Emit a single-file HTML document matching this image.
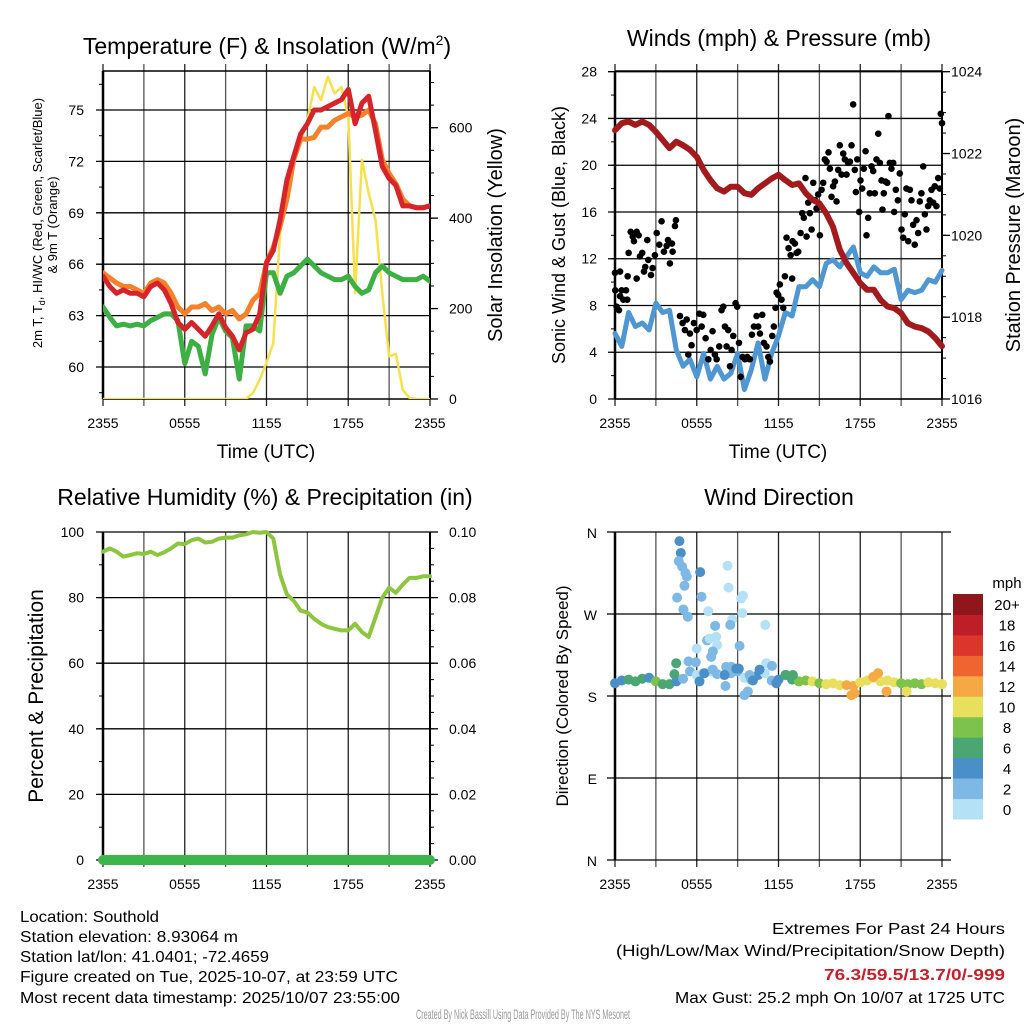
<!DOCTYPE html>
<html><head><meta charset="utf-8"><style>
html,body{margin:0;padding:0;background:#fff}
svg{display:block;font-family:"Liberation Sans",Arial,sans-serif}
</style></head><body>
<svg id="fig" width="1024" height="1024" viewBox="0 0 1024 1024" xmlns="http://www.w3.org/2000/svg">
<rect x="0" y="0" width="1024" height="1024" fill="#fff"/>
<g id="layer"></g>
<text x="267" y="54" font-size="23" text-anchor="middle">Temperature (F) &amp; Insolation (W/m<tspan font-size="14" dy="-9">2</tspan><tspan dy="9">)</tspan></text>
<text x="779" y="46" font-size="23" text-anchor="middle">Winds (mph) &amp; Pressure (mb)</text>
<text x="265" y="505" font-size="23" text-anchor="middle">Relative Humidity (%) &amp; Precipitation (in)</text>
<text x="779" y="505" font-size="23" text-anchor="middle">Wind Direction</text>
<text x="266" y="458" font-size="19" text-anchor="middle">Time (UTC)</text>
<text x="778" y="458" font-size="19" text-anchor="middle">Time (UTC)</text>
<text transform="translate(42,223) rotate(-90)" font-size="13" text-anchor="middle">2m T, T<tspan font-size="9" dy="3">d</tspan><tspan dy="-3">, HI/WC (Red, Green, Scarlet/Blue)</tspan></text>
<text transform="translate(57,225) rotate(-90)" font-size="13" text-anchor="middle">&amp; 9m T (Orange)</text>
<text transform="translate(502,235) rotate(-90)" font-size="20" text-anchor="middle">Solar Insolation (Yellow)</text>
<text transform="translate(565,235) rotate(-90)" font-size="18" text-anchor="middle">Sonic Wind &amp; Gust (Blue, Black)</text>
<text transform="translate(1020,235) rotate(-90)" font-size="20" text-anchor="middle">Station Pressure (Maroon)</text>
<text transform="translate(43,696) rotate(-90)" font-size="21" text-anchor="middle">Percent &amp; Precipitation</text>
<text transform="translate(568,696) rotate(-90)" font-size="17" text-anchor="middle">Direction (Colored By Speed)</text>
<g font-size="16">
<text x="20" y="922" textLength="139" lengthAdjust="spacingAndGlyphs">Location: Southold</text>
<text x="20" y="942" textLength="218" lengthAdjust="spacingAndGlyphs">Station elevation: 8.93064 m</text>
<text x="20" y="962" textLength="249" lengthAdjust="spacingAndGlyphs">Station lat/lon: 41.0401; -72.4659</text>
<text x="20" y="982" textLength="378" lengthAdjust="spacingAndGlyphs">Figure created on Tue, 2025-10-07, at 23:59 UTC</text>
<text x="20" y="1003" textLength="380" lengthAdjust="spacingAndGlyphs">Most recent data timestamp: 2025/10/07 23:55:00</text>
</g>
<g font-size="16" text-anchor="end">
<text x="1005" y="934" textLength="233" lengthAdjust="spacingAndGlyphs">Extremes For Past 24 Hours</text>
<text x="1005" y="956" textLength="389" lengthAdjust="spacingAndGlyphs">(High/Low/Max Wind/Precipitation/Snow Depth)</text>
<text x="1005" y="980" fill="#c8202a" font-weight="bold" textLength="181" lengthAdjust="spacingAndGlyphs">76.3/59.5/13.7/0/-999</text>
<text x="1005" y="1003" textLength="330" lengthAdjust="spacingAndGlyphs">Max Gust: 25.2 mph On 10/07 at 1725 UTC</text>
</g>
<text x="523" y="1019" font-size="14" fill="#999" text-anchor="middle" textLength="214" lengthAdjust="spacingAndGlyphs">Created By Nick Bassill Using Data Provided By The NYS Mesonet</text>
</svg>
<script>
const hours = [0,0.5,1,1.5,2,2.5,3,3.5,4,4.5,5,5.5,6,6.5,7,7.5,8,8.5,9,9.5,10,10.5,11,11.5,12,12.5,13,13.5,14,14.5,15,15.5,16,16.5,17,17.5,18,18.5,19,19.5,20,20.5,21,21.5,22,22.5,23,23.5,24];
const xTickLabels = ["2355","0555","1155","1755","2355"];
const tempRed = [65.3,64.7,64.3,64.5,64.3,64.3,64.1,64.7,64.9,64.5,63.7,62.6,62.2,62.6,62.2,61.8,62.4,63.1,62.3,61.8,61.0,62.0,62.2,63.1,66.1,66.8,68.6,70.9,72.3,73.6,74.2,75.0,75.0,75.2,75.4,75.6,76.2,74.2,75.4,75.8,73.8,71.7,71.0,70.6,69.4,69.4,69.3,69.3,69.4];
const tempOrange = [65.5,65.2,64.9,64.7,64.7,64.5,64.3,64.9,65.1,64.9,64.3,63.5,63.1,63.5,63.5,63.7,63.3,63.5,63.1,63.3,62.8,63.1,63.9,64.3,66.1,67.0,68.2,69.8,72.1,73.3,73.3,73.4,74.0,74.0,74.4,74.6,74.8,74.6,74.7,75.0,74.2,72.1,71.3,70.7,69.8,69.4,69.3,69.3,69.4];
const tempGreen = [63.5,62.9,62.4,62.5,62.4,62.5,62.4,62.7,62.9,63.1,63.1,62.7,60.2,61.5,61.2,59.6,61.9,62.9,62.1,61.7,59.3,62.4,62.4,62.1,65.5,65.5,64.3,65.3,65.5,65.9,66.3,65.9,65.5,65.3,65.1,65.1,65.3,64.7,64.3,64.5,65.5,65.9,65.5,65.3,65.1,65.1,65.1,65.3,65.0];
const solar = [0,0,0,0,0,0,0,0,0,0,0,0,0,0,0,0,0,0,0,0,0,0,13,43,80,124,367,470,529,566,617,690,661,713,676,690,624,234,529,455,396,234,94,100,20,2,0,0,0];
const windSpd = [5.6,4.5,7.4,6.2,6.5,5.9,8.2,7.4,7.6,4.2,2.8,3.4,1.9,3.9,1.7,2.8,1.7,2.2,3.9,0.8,2.5,4.8,1.7,3.9,5.4,7.4,7.1,9.6,9.6,10.2,9.6,11.6,11.9,11.3,12.2,13.0,10.8,10.5,11.3,10.8,10.8,11.1,8.5,9.3,9.1,9.3,10.2,10.0,11.0];
const pressure = [1022.57,1022.74,1022.78,1022.70,1022.78,1022.70,1022.53,1022.33,1022.13,1022.29,1022.20,1022.09,1021.92,1021.60,1021.35,1021.15,1021.07,1021.19,1021.19,1021.03,1020.99,1021.15,1021.27,1021.39,1021.48,1021.35,1021.23,1021.27,1021.03,1020.87,1020.78,1020.54,1020.21,1019.65,1019.32,1019.08,1018.83,1018.67,1018.67,1018.42,1018.26,1018.22,1018.10,1017.85,1017.77,1017.73,1017.65,1017.49,1017.29];
const gustT = [0,0.02,0.12,0.29,0.37,0.49,0.61,0.81,0.9,0.37,0.93,1.0,1.15,1.3,1.39,1.59,1.74,1.83,2.0,2.13,2.22,2.37,2.44,2.64,2.76,2.93,3.06,3.25,3.42,3.59,3.79,3.89,4.03,4.18,4.23,4.4,4.47,1.59,
4.77,4.96,5.13,5.26,5.5,5.38,5.62,5.79,5.99,6.19,6.36,6.48,6.65,6.85,7.02,7.16,7.33,7.46,7.65,7.82,7.95,8.07,8.19,8.31,8.44,8.56,8.68,8.85,8.97,9.1,9.22,9.36,9.54,9.71,9.9,10.05,10.2,10.39,10.51,10.64,10.81,10.93,11.12,11.25,11.37,11.54,11.66,11.78,11.86,11.98,12.1,12.22,12.35,
12.47,12.59,12.74,12.89,13.03,13.2,13.33,13.45,13.0,13.62,13.74,13.86,13.98,14.06,14.18,14.3,14.43,14.55,14.69,14.79,14.91,15.04,15.16,15.28,15.4,15.53,15.67,15.77,15.89,16.01,16.14,16.26,16.38,16.5,16.63,16.75,16.87,16.99,17.11,17.24,17.36,17.48,17.6,17.68,17.78,17.92,18.02,18.14,18.26,18.39,18.46,18.58,18.7,18.83,18.95,19.07,19.19,19.32,19.44,19.56,19.63,19.73,19.85,19.98,20.07,20.17,20.29,20.42,20.49,20.61,20.76,20.9,21.03,21.15,21.27,21.39,21.52,21.64,21.76,21.88,22.0,22.13,22.25,22.37,22.49,22.62,22.74,22.86,22.98,23.1,23.23,23.35,23.47,23.59,23.72,23.84,23.91,24.0];
const gustV = [10.8,9.3,7.9,7.6,8.8,9.3,8.5,9.3,8.5,10.9,10.5,12.5,14.3,13.9,13.5,14.3,14.0,12.2,12.5,10.9,11.3,13.6,11.9,10.6,11.2,12.3,14.2,13.2,15.2,12.6,13.1,13.6,11.6,13.3,12.6,14.8,15.3,10.3,
7.1,6.5,5.9,6.8,5.6,3.8,4.6,6.5,5.9,7.3,6.2,7.2,5.2,3.4,4.2,5.8,3.8,3.4,4.5,7.6,7.9,6.2,4.5,5.9,2.8,4.2,5.4,8.2,7.9,4.8,1.9,3.6,3.4,3.6,3.4,5.5,6.2,7.1,6.2,5.6,7.2,4.8,4.5,3.6,3.2,5.4,6.2,7.8,9.1,8.9,9.8,8.5,7.8,
10.5,13.8,12.9,12.3,13.5,13.3,12.5,12.6,10.3,14.2,15.9,15.5,18.9,13.9,16.8,15.9,14.5,18.5,17.0,16.3,17.5,14.0,17.9,18.5,20.5,20.3,21.1,19.7,17.3,18.2,18.6,16.9,19.6,21.7,19.2,21.0,20.5,19.2,20.2,20.3,21.7,25.2,19.6,17.7,20.5,16.0,18.7,18.0,19.7,21.2,14.0,15.5,17.6,19.9,19.5,17.6,20.5,22.7,20.2,18.7,16.2,17.6,18.6,18.5,24.2,20.2,19.7,20.2,16.0,17.9,17.0,19.3,14.5,13.8,15.8,18.0,13.5,17.9,17.0,14.9,13.2,15.3,14.2,16.9,17.6,19.9,15.8,14.5,16.5,17.0,17.9,16.8,18.2,16.5,18.9,18.0,24.4,23.6];
const rh = [94,95,94,92.5,93,93.5,93.3,94,93,93.8,95,96.5,96.3,97.5,98,96.8,97,98,98.3,98.3,99,99.3,100,99.8,100,98,87,81,79,76,75.5,73.5,72,71,70.5,70,70,72,69.5,68,74,80,83,81.5,84,86,86,86.5,86.5];
const precip = [0,0,0,0,0,0,0,0,0,0,0,0,0,0,0,0,0,0,0,0,0,0,0,0,0,0,0,0,0,0,0,0,0,0,0,0,0,0,0,0,0,0,0,0,0,0,0,0,0];
const dirBand = [194,197,198,196,199,200,196,193,193,196,199,207,203,205,207,204,203,205,207,200,198,203,205,197,198,203,198,196,197,196,194,193,194,192,192,191,195,197,200,196,197,195,194,193,194,193,195,194,193];
const dirExtraT = [4.73,4.83,4.68,4.93,5.17,5.27,5.1,4.56,5.02,5.34,6.25,6.35,6.84,7.35,6.76,6.94,7.43,7.5,7.18,7.06,6.0,5.39,5.93,8.26,8.33,9.26,9.39,9.34,8.6,8.46,9.14,11.03,11.1,11.52,8.16,8.53,8.9,9.09,8.04,8.11,9.5,9.75,9.88,10.12,10.61,4.49,4.36,6.57,7.18,6.2,11.84,12.57,13.06,17.35,17.6,19.31,18.95,19.93,21.4];
const dirExtraD = [350,337,328,322,315,311,301,288,275,267,316,289,273,257,241,243,245,236,229,223,232,218,217,323,299,287,290,271,264,258,235,258,216,213,212,212,210,210,203,191,181,185,203,197,209,216,204,205,209,196,194,203,203,181,183,205,201,185,185];
const dirExtraS = [5,5,3,3,3,3,3,3,3,3,5,3,1,3,3,1,1,1,3,3,1,3,3,1,1,1,1,1,1,3,3,1,1,3,3,3,5,5,5,3,3,3,3,5,5,7,7,5,3,5,5,7,7,13,13,13,13,13,11];
const dirTickLabels = ["N","E","S","W","N"];
const speedBinLabels = ["0","2","4","6","8","10","12","14","16","18","20+"];
const speedBinColors = ["#b4e1f6","#7db9e4","#4a8fc7","#4aa672","#7dc24b","#e8e05c","#f5a944","#ef6530","#dc352b","#bd1e27","#8f161a"];

const NS="http://www.w3.org/2000/svg";
const layer=document.getElementById('layer');
function mk(tag,attrs,parent){const e=document.createElementNS(NS,tag);for(const k in attrs)e.setAttribute(k,attrs[k]);(parent||layer).appendChild(e);return e;}
const X0=103,X1=430,X0b=615,X1b=942;
function xs(x0,x1){return t=>x0+t/24*(x1-x0);}
function ys(v0,v1,ybot,ytop){return v=>ybot-(v-v0)/(v1-v0)*(ybot-ytop);}

function frame(g,x0,x1,ytop,ybot,showTop,rightSpine){
  const sx=xs(x0,x1);
  for(let i=0;i<=8;i++){const x=sx(i*3);
    const l=mk('line',{x1:x,x2:x,y1:ytop-(showTop?7:0),y2:ybot+7,stroke:(i%2?'#555':'#222'),'stroke-width':1.3},g);
    }
  for(let i=0;i<xTickLabels.length;i++){const t=mk('text',{x:sx(i*6),y:ybot+29,'font-size':14,'text-anchor':'middle'},g);t.textContent=xTickLabels[i];
    }
  if(showTop){const l=mk('line',{x1:x0,x2:x1,y1:ytop,y2:ytop,stroke:'#000','stroke-width':1.5},g);}
  const b=mk('line',{x1:x0,x2:x1,y1:ybot,y2:ybot,stroke:'#000','stroke-width':1.5},g);
  const lft=mk('line',{x1:x0,x2:x0,y1:ytop,y2:ybot,stroke:'#000','stroke-width':2.5},g);
  if(rightSpine){const r=mk('line',{x1:x1,x2:x1,y1:ytop,y2:ybot,stroke:'#000','stroke-width':2},g);}
  return sx;
}
function leftAxis(g,x0,x1,sy,vals,labels,minors,grid,labelX){
  for(const m of minors){const l=mk('line',{x1:x0-4,x2:x0,y1:sy(m),y2:sy(m),stroke:'#000','stroke-width':1},g);}
  vals.forEach((v,i)=>{const y=sy(v);
    const l=mk('line',{x1:x0-7,x2:grid?x1:x0,y1:y,y2:y,stroke:'#000','stroke-width':1.3},g);
    const t=mk('text',{x:labelX,y:y+5,'font-size':14,'text-anchor':'end'},g);t.textContent=labels[i];});
}
function rightAxis(g,x1,sy,vals,labels,minors,labelX){
  for(const m of minors){const l=mk('line',{x1:x1,x2:x1+4,y1:sy(m),y2:sy(m),stroke:'#000','stroke-width':1},g);}
  vals.forEach((v,i)=>{const y=sy(v);
    const l=mk('line',{x1:x1,x2:x1+8,y1:y,y2:y,stroke:'#000','stroke-width':1.3},g);
    const t=mk('text',{x:labelX,y:y+5,'font-size':14},g);t.textContent=labels[i];});
}
function path(g,sx,sy,arr,color,w,name){
  const d=arr.map((v,i)=>(i?'L':'M')+sx(hours[i]).toFixed(1)+','+sy(v).toFixed(1)).join('');
  const p=mk('path',{d:d,fill:'none',stroke:color,'stroke-width':w,'stroke-linejoin':'round','stroke-linecap':'round'},g);
  return p;
}
function range(a,b,s){const r=[];for(let v=a;v<=b+1e-9;v+=s)r.push(+v.toFixed(4));return r;}

{
  const g=mk('g',{});
  const top=71,bot=399;
  const syT=ys(60,75,367,110), syS=ys(0,600,399,127.7);
  const sx=frame(g,X0,X1,top,bot,true,true);
  leftAxis(g,X0,X1,syT,[60,63,66,69,72,75],["60","63","66","69","72","75"],range(58.5,76.5,1.5),true,84);
  rightAxis(g,X1,syS,[0,200,400,600],["0","200","400","600"],range(50,700,50),449);
  const clip=mk('clipPath',{id:'c1'},g);mk('rect',{x:X0,y:top,width:X1-X0,height:bot-top},clip);
  const pg=mk('g',{'clip-path':'url(#c1)'},g);
  path(pg,sx,syS,solar,'#f7e04c',2.5,'solar-insolation-line');
  path(pg,sx,syT,tempGreen,'#3cb043',5,'dewpoint-line');
  path(pg,sx,syT,tempOrange,'#f5822a',5,'temp-9m-line');
  path(pg,sx,syT,tempRed,'#d7242a',5,'temp-2m-line');
}
{
  const g=mk('g',{});
  const top=71,bot=399;
  const syW=ys(0,28,399,71.7), syP=ys(1016,1024,399,71.7);
  const sx=frame(g,X0b,X1b,top,bot,true,true);
  leftAxis(g,X0b,X1b,syW,[0,4,8,12,16,20,24,28],["0","4","8","12","16","20","24","28"],range(2,26,2),true,597);
  rightAxis(g,X1b,syP,[1016,1018,1020,1022,1024],["1016","1018","1020","1022","1024"],range(1016.5,1023.5,0.5),951);
  path(g,sx,syW,windSpd,'#4f97d2',5,'sustained-wind-line');
  gustT.forEach((t,i)=>{const c=mk('circle',{cx:sx(t),cy:syW(gustV[i]),r:3.3,fill:'#000'},g);
    });
  path(g,sx,syP,pressure,'#a31a1d',6,'pressure-line');
}
{
  const g=mk('g',{});
  const top=532,bot=860;
  const syH=ys(0,100,860,532), syR=ys(0,0.1,860,532);
  const sx=frame(g,X0,X1,top,bot,false,true);
  leftAxis(g,X0,X1,syH,[0,20,40,60,80,100],["0","20","40","60","80","100"],range(10,90,10),true,84);
  rightAxis(g,X1,syH,[0,20,40,60,80,100],["0.00","0.02","0.04","0.06","0.08","0.10"],range(5,95,5),449);
  path(g,sx,syH,rh,'#8cc63f',4,'relative-humidity-line');
  path(g,sx,syR,precip,'#3cb54a',10,'precipitation-line');
}
{
  const g=mk('g',{});
  const top=532,bot=860;
  const syD=ys(0,360,860,532);
  const sx=xs(X0b,X1b);
  for(let i=0;i<=8;i++){const x=sx(i*3);const l=mk('line',{x1:x,x2:x,y1:top,y2:bot+7,stroke:(i%2?'#555':'#222'),'stroke-width':1.3},g);
    }
  for(let i=0;i<xTickLabels.length;i++){const t=mk('text',{x:sx(i*6),y:bot+29,'font-size':14,'text-anchor':'middle'},g);t.textContent=xTickLabels[i];
    }
  dirTickLabels.forEach((lab,i)=>{const y=syD(i*90);
    const l=mk('line',{x1:X0b-8,x2:951,y1:y,y2:y,stroke:'#000','stroke-width':1.3},g);
    const t=mk('text',{x:597,y:y+6,'font-size':14,'text-anchor':'end'},g);t.textContent=lab;});
  const lft=mk('line',{x1:X0b,x2:X0b,y1:top,y2:bot,stroke:'#000','stroke-width':2.5},g);
  const col=s=>speedBinColors[Math.max(0,Math.min(10,Math.floor(s/2)))];
  dirBand.forEach((d,i)=>{const c=mk('circle',{cx:sx(hours[i]),cy:syD(d),r:5,fill:col(windSpd[i])},g);
    });
  dirExtraT.forEach((t,i)=>{const c=mk('circle',{cx:sx(t),cy:syD(dirExtraD[i]),r:5,fill:col(dirExtraS[i])},g);
    });
  const cb=mk('g',{},g);
  const h=(819-594)/11;
  speedBinLabels.forEach((lab,i)=>{const y=819-(i+1)*h;
    const r=mk('rect',{x:953,y:y,width:30,height:h+0.5,fill:speedBinColors[i]},cb);
    const t=mk('text',{x:1007,y:y+h/2+6,'font-size':15,'text-anchor':'middle'},cb);t.textContent=lab;});
  const u=mk('text',{x:1007,y:588,'font-size':15,'text-anchor':'middle'},cb);u.textContent='mph';
}
</script>
</body></html>
